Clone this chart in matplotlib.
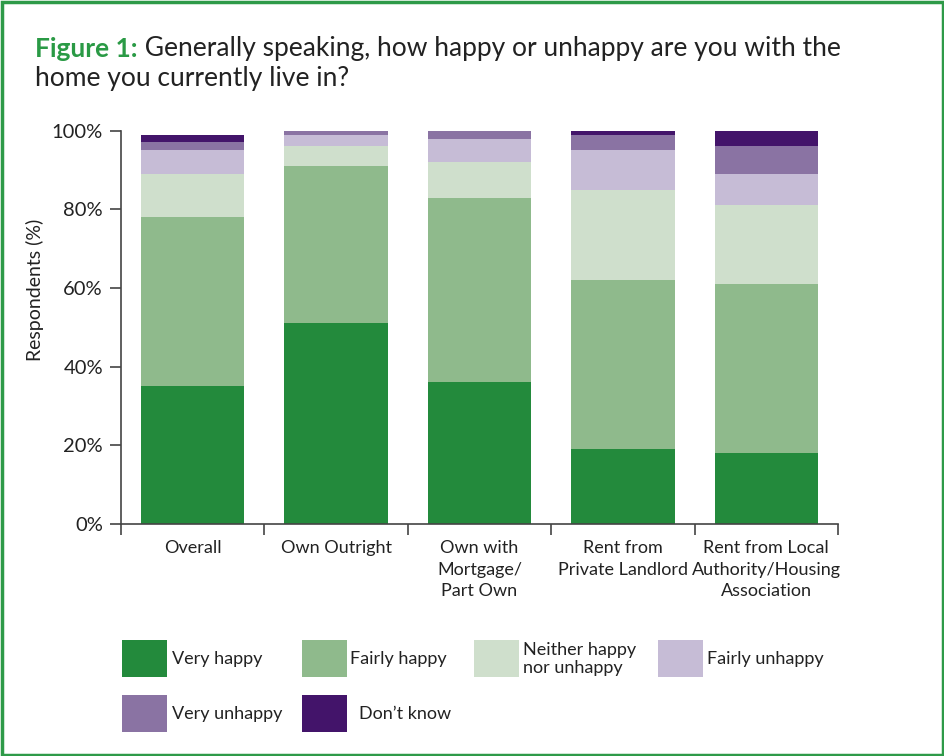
import matplotlib
matplotlib.use("Agg")
import matplotlib.pyplot as plt
from matplotlib.patches import Rectangle

plt.rcParams["font.family"] = ["Lato", "DejaVu Sans"]

# data (% of respondents)
categories = ["Overall", "Own Outright", "Own with\nMortgage/\nPart Own",
              "Rent from\nPrivate Landlord", "Rent from Local\nAuthority/Housing\nAssociation"]
responses = ["Very happy", "Fairly happy", "Neither happy\nnor unhappy",
             "Fairly unhappy", "Very unhappy", "Don\u2019t know"]
very_happy = [35, 51, 36, 19, 18]
fairly_happy = [43, 40, 47, 43, 43]
neither = [11, 5, 9, 23, 20]
fairly_unhappy = [6, 3, 6, 10, 8]
very_unhappy = [2, 1, 2, 4, 7]
dont_know = [2, 0, 0, 1, 4]
colors = ["#238a3c", "#8fba8c", "#cfdfcc", "#c6bcd6", "#8a73a3", "#43146a"]

W, H = 944, 756
def px(x, y):
    return x / W, 1 - y / H

fig = plt.figure(figsize=(W / 100, H / 100), dpi=100)
ax = fig.add_axes([121 / W, 1 - 523.7 / H, 717 / W, 393 / H])

series = [very_happy, fairly_happy, neither, fairly_unhappy, very_unhappy, dont_know]
x = range(len(categories))
bottom = [0] * len(categories)
for vals, col in zip(series, colors):
    ax.bar(x, vals, bottom=bottom, width=0.72, color=col, linewidth=0)
    bottom = [b + v for b, v in zip(bottom, vals)]

ax.set_xlim(-0.5, len(categories) - 0.5)
ax.set_ylim(0, 100)
for s in ["top", "right"]:
    ax.spines[s].set_visible(False)
for s in ["left", "bottom"]:
    ax.spines[s].set_color("#444444")
    ax.spines[s].set_linewidth(1.2)
ax.set_yticks(range(0, 101, 20))
ax.set_yticklabels([f"{v}%" for v in range(0, 101, 20)], fontsize=14.5, color="#222222")
ax.tick_params(axis="y", direction="out", length=8, width=1.2, color="#444444", pad=5)
ax.set_xticks(list(x))
ax.set_xticklabels(categories, fontsize=13, color="#222222", linespacing=1.4, va="top")
ax.set_xticks([i - 0.5 for i in range(len(categories) + 1)], minor=True)
ax.tick_params(axis="x", which="major", length=0, pad=12)
ax.tick_params(axis="x", which="minor", direction="out", length=8, width=1.2, color="#444444")
ax.set_ylabel("Respondents (%)", fontsize=14, color="#222222")
ax.yaxis.set_label_coords(-0.108, 0.595)

# title
t1 = fig.text(*px(35, 57), "Figure 1:", fontsize=19, fontweight="bold", color="#2a9a45",
              va="baseline")
ax.annotate(" Generally speaking, how happy or unhappy are you with the", xy=(1, 0),
            xycoords=t1, va="bottom", fontsize=19, color="#222222", annotation_clip=False)
fig.text(*px(35, 86), "home you currently live in?", fontsize=19, color="#222222", va="baseline")

# legend
legend_pos = [(122, 640, 172), (302, 640, 350), (474, 640, 523), (658, 640, 707),
              (122, 695, 172), (302, 695, 359)]
for (lx, ly, tx), lab, col in zip(legend_pos, responses, colors):
    fig.patches.append(Rectangle(px(lx, ly + 37), 45 / W, 37 / H, transform=fig.transFigure,
                                 facecolor=col, edgecolor="none"))
    fig.text(*px(tx, ly + 19), lab, fontsize=13, color="#222222", va="center",
             linespacing=1.2)

# green frame
fig.patches.append(Rectangle(px(1.5, 754.5), 941 / W, 753 / H, transform=fig.transFigure,
                             facecolor="none", edgecolor="#2e9a48", linewidth=2.5))

fig.savefig("out.png", dpi=100)
